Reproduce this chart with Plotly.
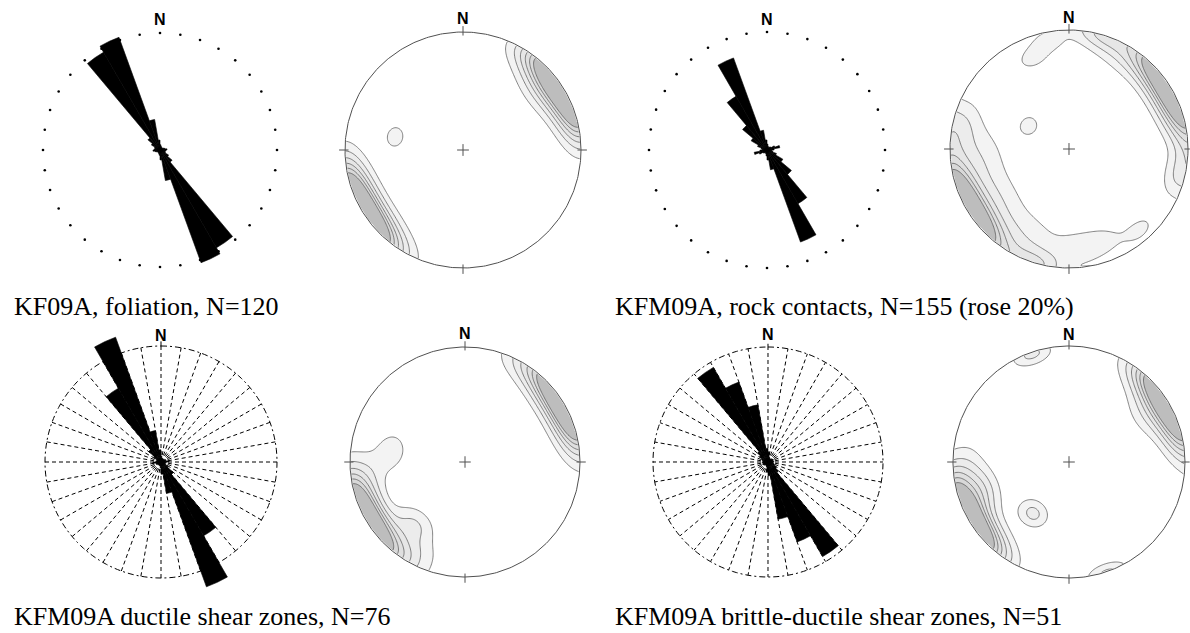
import numpy as np
import plotly.graph_objects as go

W, H = 1190, 633

# ---------------- data ----------------
# rose diagrams: axial 10-degree bins (0-10 ... 170-180), percent; outer ring = 20 %
BIN_START = list(range(0, 180, 10))
RING_PCT = 20
ROSE_FOLIATION = [0.9, 0.7, 0.5, 0.5, 0.5, 0.5, 0.7, 0.9, 1.2, 1.0, 0.9, 1.0, 1.7, 2.7, 19.3, 20.5, 5.3, 1.7]
ROSE_CONTACTS = [1.0, 0.7, 0.5, 0.5, 0.7, 0.8, 1.4, 2.2, 1.2, 0.8, 1.0, 1.7, 3.1, 5.4, 10.5, 16.6, 3.4, 1.7]
ROSE_DUCTILE = [1.0, 0.7, 0.5, 0.5, 0.5, 0.7, 0.9, 0.9, 1.4, 0.9, 0.7, 0.9, 1.4, 2.8, 14.7, 22.9, 5.5, 2.1]
ROSE_BRITTLE = [1.7, 0.9, 0.7, 0.5, 0.7, 0.9, 1.0, 0.9, 1.0, 0.9, 1.0, 1.2, 1.7, 2.4, 19.0, 14.8, 10.1, 2.4]

# stereonets: pole clusters (trend deg, plunge deg, weight, concentration kappa)
FOL_TREND = [48, 60, 72, 36, 52, 281]
FOL_PLUNGE = [0, 0, 0, 4, 18, 41]
FOL_WEIGHT = [5.2, 5.2, 5.0, 1.0, 1.3, 1.35]
FOL_KAPPA = [23, 23, 23, 30, 25, 60]

CON_TREND = [48, 60, 72, 16, 30, 98, 105, 265, 283, 235, 205, 175, 160, 349, 338, 300, 139]
CON_PLUNGE = [0, 0, 0, 0, 10, 0, 10, 28, 12, 30, 22, 18, 18, 9, 19, 58, 11]
CON_WEIGHT = [5.1, 5.1, 5.0, 2.6, 1.3, 1.5, 1.0, 1.4, 1.2, 1.3, 1.3, 1.3, 1.2, 1.3, 1.3, 1.3, 1.3]
CON_KAPPA = [23, 23, 23, 35, 25, 30, 50, 20, 30, 20, 20, 35, 40, 60, 60, 60, 60]

DUC_TREND = [48, 60, 72, 30, 279, 219, 265, 208]
DUC_PLUNGE = [0, 0, 0, 3, 36, 31, 20, 15]
DUC_WEIGHT = [5.1, 5.1, 5.0, 1.0, 1.55, 1.9, 1.0, 1.0]
DUC_KAPPA = [23, 23, 23, 30, 45, 38, 30, 35]

BRI_TREND = [48, 60, 72, 58, 252, 268, 215, 341]
BRI_PLUNGE = [0, 0, 0, 25, 24, 15, 45, 2]
BRI_WEIGHT = [5.1, 5.1, 5.0, 1.0, 1.9, 1.0, 2.35, 2.3]
BRI_KAPPA = [23, 23, 23, 30, 35, 30, 60, 60]

CONTOUR_LEVELS = dict(start=1, end=6, size=1)
BAND_COLORS = ['#ffffff', '#f3f3f3', '#ececec', '#e6e6e6', '#dfdfdf', '#d8d8d8', '#bdbdbd']

CAPTIONS = ["KF09A, foliation, N=120",
            "KFM09A, rock contacts, N=155 (rose 20%)",
            "KFM09A ductile shear zones, N=76",
            "KFM09A brittle-ductile shear zones, N=51"]


# ---------------- helpers ----------------
def unit_vec(trend, plunge):
    t = np.radians(trend)
    p = np.radians(plunge)
    return np.stack([np.cos(p) * np.sin(t), np.cos(p) * np.cos(t), np.sin(p)], axis=-1)


def density(xg, yg, trend, plunge, weight, kappa):
    X, Y = np.meshgrid(xg, yg)
    r = np.minimum(np.hypot(X, Y), 1.0)
    colat = 2 * np.arcsin(r / np.sqrt(2))
    tr = np.degrees(np.arctan2(X, Y))
    pl = 90 - np.degrees(colat)
    V = unit_vec(tr, pl)
    G = unit_vec(np.array(trend, float), np.array(plunge, float))
    d = np.zeros_like(X)
    for g, w, k in zip(G, weight, kappa):
        c = np.abs(V @ g)
        d += w * np.exp(k * (c - 1))
    return d


def px_dom_x(a, b):
    return [max(0, a / W), min(1, b / W)]


def px_dom_y(top, bottom):
    return [max(0, 1 - bottom / H), min(1, 1 - top / H)]


fig = go.Figure()
layout = {}
annotations = []

# ---------------- rose diagrams ----------------
rose_specs = [
    (ROSE_FOLIATION, 160, 150, 117, 21.0, 'dots', 19),
    (ROSE_CONTACTS, 767, 150, 118, 20.6, 'dots', 19),
    (ROSE_DUCTILE, 161, 462, 116, 23.5, 'grid', 335),
    (ROSE_BRITTLE, 768, 462, 115, 20.6, 'grid', 334),
]
for i, (vals, cx, cy, cpx, rmax, style, ny) in enumerate(rose_specs, 1):
    sp = 'polar' if i == 1 else f'polar{i}'
    rad = rmax / RING_PCT * cpx
    if style == 'dots':
        fig.add_trace(go.Scatterpolar(r=[RING_PCT] * 36, theta=list(range(0, 360, 10)), mode='markers',
                                      marker=dict(size=2.6, color='black'), subplot=sp,
                                      hoverinfo='skip', showlegend=False))
    else:
        rr, tt = [], []
        for a in range(0, 360, 10):
            rr += [0, RING_PCT, None]
            tt += [a, a, None]
        fig.add_trace(go.Scatterpolar(r=rr, theta=tt, mode='lines',
                                      line=dict(color='black', width=1, dash='4px,3px'),
                                      subplot=sp, hoverinfo='skip', showlegend=False))
        ct = list(range(0, 362, 2))
        fig.add_trace(go.Scatterpolar(r=[RING_PCT] * len(ct), theta=ct, mode='lines',
                                      line=dict(color='black', width=1, dash='6px,3px,2px,3px'),
                                      subplot=sp, hoverinfo='skip', showlegend=False))
        fig.add_trace(go.Scatterpolar(r=[RING_PCT, RING_PCT * 1.04], theta=[0, 0], mode='lines',
                                      line=dict(color='black', width=1),
                                      subplot=sp, hoverinfo='skip', showlegend=False))
    theta = [b + 5 for b in BIN_START] + [b + 185 for b in BIN_START]
    fig.add_trace(go.Barpolar(r=vals + vals, theta=theta, width=[10] * 36,
                              marker=dict(color='black', line=dict(color='black', width=0.6)),
                              subplot=sp, hoverinfo='skip', showlegend=False))
    layout[sp] = dict(
        domain=dict(x=px_dom_x(cx - rad, cx + rad), y=px_dom_y(cy - rad, cy + rad)),
        bgcolor='rgba(0,0,0,0)', bargap=0, hole=0,
        angularaxis=dict(rotation=90, direction='clockwise', showgrid=False, showline=False,
                         showticklabels=False, ticks=''),
        radialaxis=dict(range=[0, rmax], showgrid=False, showline=False, showticklabels=False,
                        ticks=''),
    )
    annotations.append(dict(x=cx / W, y=1 - ny / H, xref='paper', yref='paper', text='<b>N</b>',
                            showarrow=False, xanchor='center', yanchor='middle',
                            font=dict(family='Liberation Sans', size=16, color='black')))

# ---------------- stereonets ----------------
stereo_specs = [
    (FOL_TREND, FOL_PLUNGE, FOL_WEIGHT, FOL_KAPPA, 463, 150, 118, 1.1, 18.5),
    (CON_TREND, CON_PLUNGE, CON_WEIGHT, CON_KAPPA, 1069, 149, 119, 1.015, 17.5),
    (DUC_TREND, DUC_PLUNGE, DUC_WEIGHT, DUC_KAPPA, 465, 462, 115, 1.1, 333),
    (BRI_TREND, BRI_PLUNGE, BRI_WEIGHT, BRI_KAPPA, 1069, 462, 116, 1.04, 334),
]
nlev = int((CONTOUR_LEVELS['end'] - CONTOUR_LEVELS['start']) / CONTOUR_LEVELS['size']) + 1
colorscale = [[k / nlev, c] for k, c in enumerate(BAND_COLORS)]
grid = np.linspace(-1.005, 1.005, 203)   # density grid just covering the primitive circle
circ = np.radians(np.arange(0, 361, 1))
ext = 1.1
for j, (tr, pl, wt, kp, cx, cy, R, aright, ny) in enumerate(stereo_specs, 1):
    xa = 'x' if j == 1 else f'x{j}'
    ya = 'y' if j == 1 else f'y{j}'
    z = density(grid, grid, tr, pl, wt, kp)
    fig.add_trace(go.Contour(x=grid, y=grid, z=z, xaxis=xa, yaxis=ya, autocontour=False,
                             contours=dict(start=CONTOUR_LEVELS['start'], end=CONTOUR_LEVELS['end'],
                                           size=CONTOUR_LEVELS['size'], coloring='fill', showlines=True),
                             line=dict(color='#505050', width=0.7, smoothing=1),
                             colorscale=colorscale, showscale=False, hoverinfo='skip'))
    # white mask outside the primitive circle
    mx = [2, 2, -2, -2, 2, 2, 1] + list(np.cos(-circ)) + [2]
    my = [0, 2, 2, -2, -2, 0, 0] + list(np.sin(-circ)) + [0]
    fig.add_trace(go.Scatter(x=mx, y=my, xaxis=xa, yaxis=ya, mode='lines', fill='toself',
                             fillcolor='white', line=dict(color='white', width=1.5),
                             hoverinfo='skip', showlegend=False))
    # primitive circle
    fig.add_trace(go.Scatter(x=np.cos(circ), y=np.sin(circ), xaxis=xa, yaxis=ya, mode='lines',
                             line=dict(color='#505050', width=1), hoverinfo='skip', showlegend=False))
    # cardinal ticks and centre cross
    tx, ty = [], []
    for ang in (0, 90, 180, 270):
        a = np.radians(ang)
        tx += [0.97 * np.sin(a), 1.05 * np.sin(a), None]
        ty += [0.97 * np.cos(a), 1.05 * np.cos(a), None]
    tx += [-0.05, 0.05, None, 0, 0]
    ty += [0, 0, None, -0.05, 0.05]
    fig.add_trace(go.Scatter(x=tx, y=ty, xaxis=xa, yaxis=ya, mode='lines',
                             line=dict(color='#505050', width=1), hoverinfo='skip', showlegend=False))
    xkey = 'xaxis' if j == 1 else f'xaxis{j}'
    ykey = 'yaxis' if j == 1 else f'yaxis{j}'
    layout[xkey] = dict(domain=px_dom_x(cx - ext * R, cx + aright * R), range=[-ext, aright],
                        visible=False, fixedrange=True, anchor=ya)
    layout[ykey] = dict(domain=px_dom_y(cy - ext * R, cy + ext * R), range=[-ext, ext],
                        visible=False, fixedrange=True, anchor=xa)
    annotations.append(dict(x=cx / W, y=1 - ny / H, xref='paper', yref='paper', text='<b>N</b>',
                            showarrow=False, xanchor='center', yanchor='middle',
                            font=dict(family='Liberation Sans', size=16, color='black')))

# ---------------- captions ----------------
cap_pos = [(12, 307), (613, 307), (12, 616.5), (613, 616.5)]
for txt, (x0, yc) in zip(CAPTIONS, cap_pos):
    annotations.append(dict(x=x0 / W, y=1 - yc / H, xref='paper', yref='paper', text=txt,
                            showarrow=False, xanchor='left', yanchor='middle',
                            font=dict(family='Liberation Serif', size=26, color='black')))

fig.update_layout(width=W, height=H, margin=dict(l=0, r=0, t=0, b=0),
                  paper_bgcolor='white', plot_bgcolor='white', showlegend=False,
                  annotations=annotations, **layout)
fig.write_html("out.html")
